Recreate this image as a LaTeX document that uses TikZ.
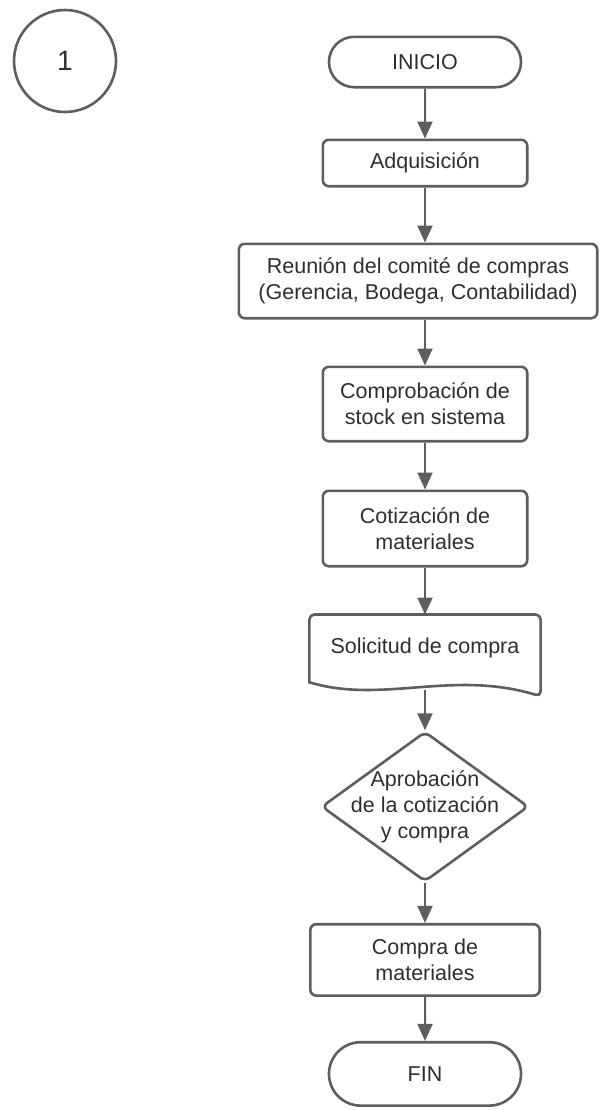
\documentclass[tikz,border=0pt]{standalone}
\usepackage{fontspec}
\setmainfont{Liberation Sans}
\usetikzlibrary{shapes,arrows.meta,positioning,calc}
\definecolor{linegray}{HTML}{5E5E5E}
\definecolor{textgray}{HTML}{2E2E2E}

\begin{document}
\begin{tikzpicture}[
    node distance=23pt,
    every node/.style={font=\fontsize{10.75}{13}\selectfont, text=textgray},
    terminal/.style={rounded rectangle, draw=linegray, line width=1.3pt, minimum width=102.7pt, minimum height=25.2pt},
    process/.style={rectangle, draw=linegray, line width=1.3pt, rounded corners=3pt, minimum width=102.2pt, align=center},
    decision/.style={diamond, draw=linegray, line width=1.3pt, rounded corners=3pt, minimum width=103.5pt, minimum height=75pt, inner sep=-12pt, align=center},
    paper/.style={draw=linegray, line width=1.3pt},
    flow/.style={draw=linegray, line width=1pt, -{Triangle[width=7.5pt,length=8.5pt]}}
]
\useasboundingbox (0,0) rectangle (300pt,-555pt);

% page connector
\node[circle, draw=linegray, line width=1.3pt, minimum size=51pt, font=\fontsize{14}{16}\selectfont] (conn) at (32.5pt,-30.5pt) {1};

% main flow, top to bottom
\node[terminal] (inicio) at (212.5pt,-31pt) {INICIO};
\node[process, below=25pt of inicio, minimum height=23.2pt] (adq) {Adquisición};
\node[process, below=27.5pt of adq, xshift=-3.5pt, minimum width=179.2pt, minimum height=37.2pt] (reunion) {Reunión del comité de compras\\(Gerencia, Bodega, Contabilidad)};
\node[process, below=of reunion, xshift=3.5pt, minimum height=37.2pt] (comp) {Comprobación de\\stock en sistema};
\node[process, below=23.5pt of comp, minimum height=37.7pt] (cot) {Cotización de\\materiales};
\node[below=23.5pt of cot, minimum width=115.2pt, minimum height=33.5pt] (doc) {Solicitud de compra};
\node[decision, below=24pt of doc] (aprob) {Aprobación\\de la cotización\\y compra};
\node[process, below=20pt of aprob, minimum width=114.7pt, minimum height=35.7pt] (compra) {Compra de\\materiales};
\node[terminal, below=22pt of compra, minimum height=31.7pt] (fin) {FIN};

% document outline with wavy bottom
\draw[paper] (doc.south west) [rounded corners=2.5pt] -- (doc.north west) -- (doc.north east) -- ([yshift=-7pt]doc.south east) [sharp corners]
    .. controls ($(doc.south west)+(71.5pt,6.5pt)$) and ($(doc.south west)+(36.5pt,-11pt)$) .. (doc.south west) -- cycle;

% arrows
\draw[flow] (inicio) -- (adq);
\draw[flow] (adq) -- (adq |- reunion.north);
\draw[flow] (reunion.south -| comp) -- (comp);
\draw[flow] (comp) -- (cot);
\draw[flow] (cot) -- (doc);
\draw[flow] ([yshift=-4pt]doc.south) -- (aprob);
\draw[flow] (aprob) -- (compra);
\draw[flow] (compra) -- (fin);

\end{tikzpicture}
\end{document}
